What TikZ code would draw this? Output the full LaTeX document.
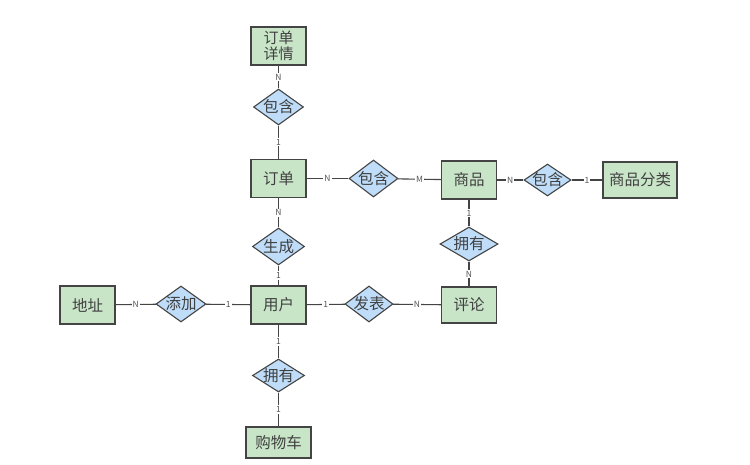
\documentclass[tikz,border=0pt]{standalone}
\usepackage{fontspec}
\setmainfont{Noto Sans CJK SC}
\usetikzlibrary{shapes.geometric}
\definecolor{entfill}{HTML}{C9E5C8}
\definecolor{relfill}{HTML}{BFDDF9}
\definecolor{edgecol}{HTML}{444444}
\definecolor{lblcol}{HTML}{555555}
\tikzset{
  ent/.style={draw=edgecol, line width=1.2pt, fill=entfill, minimum width=55pt, minimum height=38pt, inner sep=0pt, font=\fontsize{15.5}{17}\selectfont, text=black!75},
  rel/.style={diamond, draw=edgecol, line width=1.1pt, fill=relfill, minimum width=50pt, minimum height=36pt, inner sep=0pt,
    label={[font=\fontsize{15.5}{17}\selectfont, text=black!75, inner sep=0pt]center:#1}},
  conn/.style={draw=edgecol, line width=1.1pt},
  card/.style={fill=white, inner sep=1pt, font=\fontsize{8.5}{9}\selectfont, text=lblcol}
}
\begin{document}
\begin{tikzpicture}[x=1pt,y=-1pt]
\useasboundingbox (0,0) rectangle (750,465);
% entities
\node[ent, align=center, font=\fontsize{15}{15.5}\selectfont] (xq) at (278.5,46) {订单\\详情};
\node[ent] (dd) at (278.5,178.5) {订单};
\node[ent] (sp) at (469,180) {商品};
\node[ent, minimum width=74pt, minimum height=36pt] (fl) at (640,180) {商品分类};
\node[ent] (dz) at (87.5,305) {地址};
\node[ent] (yh) at (278.5,305) {用户};
\node[ent, minimum height=36pt] (pl) at (469,305) {评论};
\node[ent, minimum width=65pt, minimum height=31pt] (gwc) at (278.5,442.5) {购物车};
% relations
\node[rel=包含] (r1) at (278.5,107) {};
\node[rel=包含, minimum width=49pt, minimum height=37pt] (r2) at (373.5,178.5) {};
\node[rel=包含, minimum width=47pt, minimum height=32pt] (r3) at (547.5,180) {};
\node[rel=生成, minimum width=52pt, minimum height=37pt] (r4) at (278.5,246.5) {};
\node[rel=拥有, minimum width=58pt, minimum height=34pt] (r5) at (469,244) {};
\node[rel=添加] (r6) at (181,304) {};
\node[rel=发表, minimum width=48pt] (r7) at (369,304) {};
\node[rel=拥有, minimum width=52pt, minimum height=33pt] (r8) at (278.5,375.5) {};
% connectors
\draw[conn] (xq) -- node[card]{N} (r1);
\draw[conn] (r1) -- node[card]{1} (dd);
\draw[conn] (dd) -- node[card]{N} (r2);
\draw[conn] (r2) -- node[card]{M} (sp);
\draw[conn] (sp) -- node[card]{N} (r3);
\draw[conn] (r3) -- node[card]{1} (fl);
\draw[conn] (dd) -- node[card]{N} (r4);
\draw[conn] (r4) -- node[card]{1} (yh);
\draw[conn] (sp) -- node[card]{1} (r5);
\draw[conn] (r5) -- node[card]{N} (pl);
\draw[conn] (dz) -- node[card]{N} (r6);
\draw[conn] (r6) -- node[card]{1} (yh);
\draw[conn] (yh) -- node[card]{1} (r7);
\draw[conn] (r7) -- node[card]{N} (pl);
\draw[conn] (yh) -- node[card]{1} (r8);
\draw[conn] (r8) -- node[card]{1} (gwc);
\end{tikzpicture}
\end{document}
